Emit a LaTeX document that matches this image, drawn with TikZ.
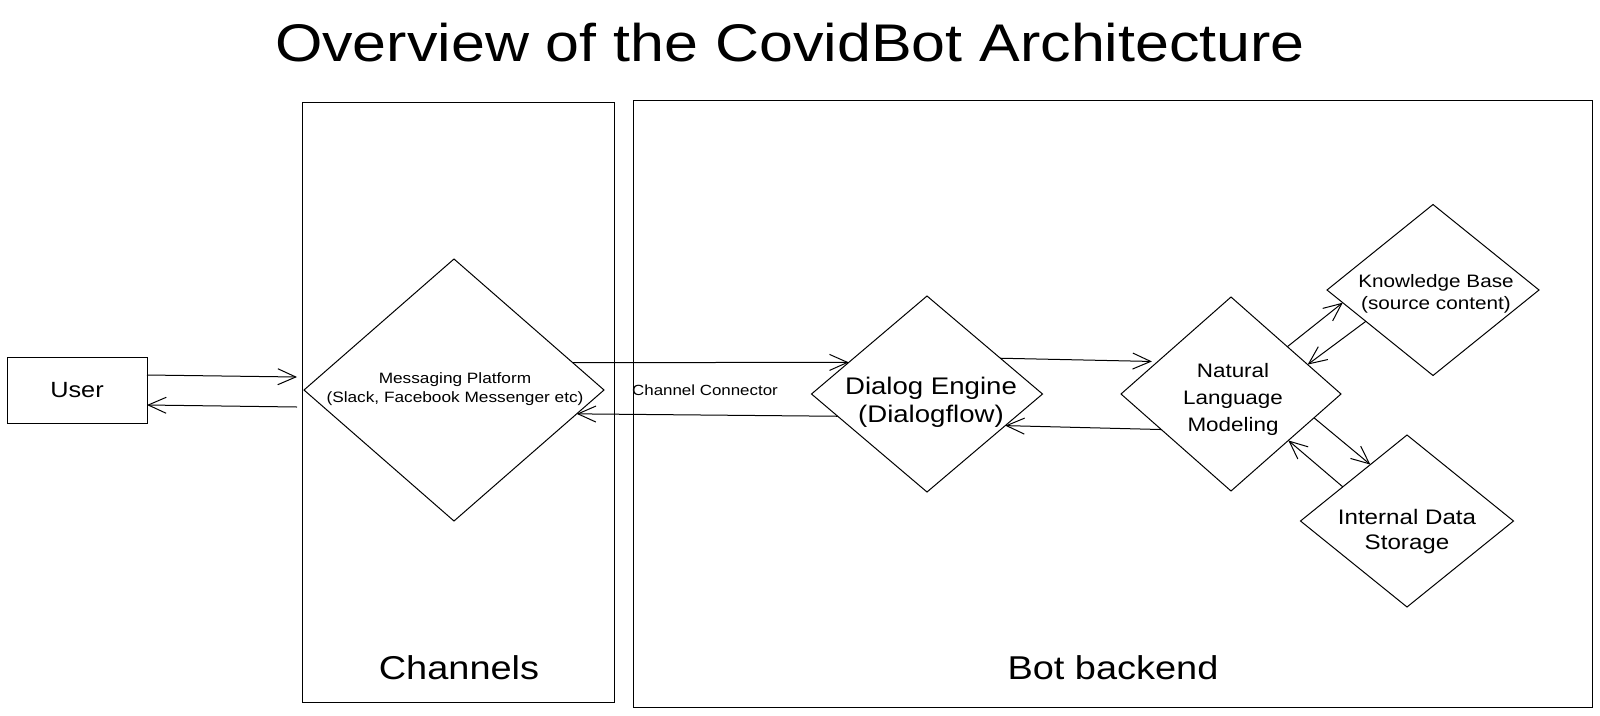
\documentclass[tikz,border=0pt]{standalone}
\usepackage{fontspec}
\setmainfont{Liberation Sans}[FakeStretch=1.15]
\usetikzlibrary{shapes.geometric,arrows.meta}

\begin{document}
\begin{tikzpicture}[x=1pt,y=-1pt,
  every node/.style={inner sep=0pt, outer sep=0pt},
  frame/.style={draw=black, line width=1pt, rectangle, inner sep=0pt},
  dia/.style={draw=black, line width=1pt, shape=diamond, inner sep=0pt},
  arr/.style={draw=black, line width=1pt, -{Straight Barb[length=18pt,width=16pt,line width=1pt]}},
  txt/.style={align=center, text=black},
  fs/.style 2 args={font=\fontsize{#1}{#2}\selectfont}
]
\fill[white] (0,0) rectangle (1600,715);
\useasboundingbox (0,0) rectangle (1600,715);

% title
\node[txt, fs={53}{60}, anchor=base] (title) at (790,61) {Overview of the CovidBot Architecture};

% containers
\node[frame, minimum width=312pt, minimum height=600pt] (chan) at (458,402) {};
\node[frame, minimum width=959pt, minimum height=607pt] (backend) at (1112.5,403.5) {};
\node[txt, fs={33}{38}, anchor=base] (chanlbl) at (459,679) {Channels};
\node[txt, fs={33}{38}, anchor=base] (backlbl) at (1113,679) {Bot backend};

% user
\node[frame, minimum width=140pt, minimum height=66pt, fs={22}{26}] (user) at (77,390) {User};

% diamonds
\node[dia, minimum width=300pt, minimum height=262pt] (msg) at (454,390) {};
\node[dia, minimum width=231pt, minimum height=196pt] (dlg) at (927,394) {};
\node[dia, minimum width=220pt, minimum height=194pt] (nlm) at (1231,394) {};
\node[dia, minimum width=212pt, minimum height=171pt] (kb) at (1433,290) {};
\node[dia, minimum width=213pt, minimum height=172pt] (ids) at (1407,521) {};

% diamond texts
\node[txt, fs={15}{19}] (msgt) at (455,389) {Messaging Platform\\(Slack, Facebook Messenger etc)};
\node[txt, fs={24}{28}] (dlgt) at (931,402) {Dialog Engine\\(Dialogflow)};
\node[txt, fs={19.5}{27}] (nlmt) at (1233,399) {Natural\\Language\\Modeling};
\node[txt, fs={18}{22}] (kbt) at (1436,294) {Knowledge Base\\(source content)};
\node[txt, fs={21}{25}] (idst) at (1407,532) {Internal Data\\Storage};

% connector label
\node[txt, fs={14.7}{18}, anchor=base] (cc) at (705,395) {Channel Connector};

% arrows
\draw[arr] ([yshift=15pt]user.east) -- ([xshift=-7pt,yshift=13pt]msg.west);
\draw[arr] ([xshift=-7pt,yshift=-17pt]msg.west) -- ([yshift=-15pt]user.east);
\draw[arr] (msg.13) -- (dlg.158);
\draw[arr] (dlg.194.6) -- (msg.349.7);
\draw[arr] (dlg.26.3) -- ([xshift=-6pt]nlm.156.5);
\draw[arr] (nlm.207.5) -- (dlg.338.6);
\draw[arr] (nlm.40.4) -- (kb.188.7);
\draw[arr] (kb.205.3) -- (nlm.21);
\draw[arr] (nlm.-16.2) -- (ids.123.5);
\draw[arr] (ids.152.8) -- (nlm.-39.2);
\end{tikzpicture}
\end{document}
